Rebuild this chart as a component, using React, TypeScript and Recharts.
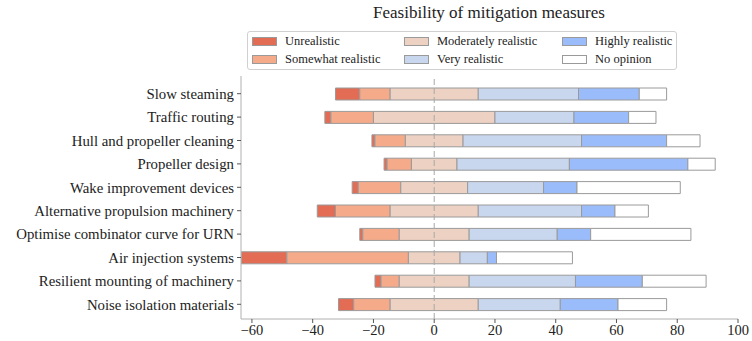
import React from "react";
import { BarChart, Bar, XAxis, YAxis, ReferenceLine } from "recharts";

const categories = [
  "Slow steaming",
  "Traffic routing",
  "Hull and propeller cleaning",
  "Propeller design",
  "Wake improvement devices",
  "Alternative propulsion machinery",
  "Optimise combinator curve for URN",
  "Air injection systems",
  "Resilient mounting of machinery",
  "Noise isolation materials",
];
const unrealistic = [8, 2, 1, 1, 2, 6, 1, 15, 2, 5];
const somewhat = [10, 14, 10, 8, 14, 18, 12, 40, 6, 12];
const moderate = [29, 40, 19, 15, 22, 29, 23, 17, 23, 29];
const very = [33, 26, 39, 37, 25, 34, 29, 9, 35, 27];
const highly = [20, 18, 28, 39, 11, 11, 11, 3, 22, 19];
const noOpinion = [9, 9, 11, 9, 34, 11, 33, 25, 21, 16];
const xTicks = [-60, -40, -20, 0, 20, 40, 60, 80, 100];

const seriesNames = [
  "Unrealistic",
  "Somewhat realistic",
  "Moderately realistic",
  "Very realistic",
  "Highly realistic",
  "No opinion",
];
const seriesKeys = ["u", "s", "m", "v", "h", "n"];
const colors = ["#e36c55", "#f5aa8a", "#edd2c3", "#c8d6ee", "#9bbcfa", "#ffffff"];

const data = categories.map((name, i) => ({
  name,
  offset: -(unrealistic[i] + somewhat[i] + moderate[i] / 2),
  u: unrealistic[i],
  s: somewhat[i],
  m: moderate[i],
  v: very[i],
  h: highly[i],
  n: noOpinion[i],
}));

const FONT = "'Liberation Serif', serif";
const TEXT = "#222";
const FRAME = "#b0b0b0";
const DOMAIN: [number, number] = [-63.6, 100];

const legendCols = [
  [0, 1],
  [2, 3],
  [4, 5],
];
const legendColX = [4, 156, 314];

export default function App() {
  return (
    <div style={{ position: "absolute", left: 0, top: 0, width: 752, height: 341, background: "#fff", fontFamily: FONT }}>
      <div
        style={{
          position: "absolute",
          left: 240,
          width: 498,
          top: 3,
          textAlign: "center",
          fontSize: 17,
          color: TEXT,
        }}
      >
        Feasibility of mitigation measures
      </div>
      <div
        style={{
          position: "absolute",
          left: 247,
          top: 31,
          width: 430,
          height: 39,
          border: "1px solid #d0d0d0",
          borderRadius: 3,
          boxSizing: "border-box",
        }}
      >
        {legendCols.map((col, ci) =>
          col.map((si, ri) => (
            <div
              key={si}
              style={{
                position: "absolute",
                left: legendColX[ci],
                top: 1 + ri * 18.5,
                height: 16,
                display: "flex",
                alignItems: "center",
                fontSize: 12.5,
                color: TEXT,
                whiteSpace: "nowrap",
              }}
            >
              <span
                style={{
                  display: "inline-block",
                  width: 23,
                  height: 7,
                  background: colors[si],
                  border: "1px solid #9a9a9a",
                  marginRight: 8,
                }}
              />
              {seriesNames[si]}
            </div>
          ))
        )}
      </div>
      <div style={{ position: "absolute", left: 0, top: 0 }}>
        <BarChart
          width={752}
          height={341}
          data={data}
          layout="vertical"
          margin={{ top: 76, right: 14, bottom: 0, left: 0 }}
          barSize={12}
        >
          <XAxis
            type="number"
            domain={DOMAIN}
            ticks={xTicks}
            allowDataOverflow
            height={22}
            tickSize={4}
            tickMargin={2}
            axisLine={{ stroke: FRAME }}
            tickLine={{ stroke: "#555" }}
            tick={{ fill: TEXT, fontSize: 14.5, fontFamily: FONT }}
            tickFormatter={(v: number) => (v < 0 ? "\u2212" + Math.abs(v) : String(v))}
          />
          <XAxis
            xAxisId="top"
            orientation="top"
            type="number"
            domain={DOMAIN}
            allowDataOverflow
            height={0}
            tick={false}
            tickLine={false}
            axisLine={{ stroke: FRAME }}
          />
          <YAxis
            type="category"
            dataKey="name"
            width={241}
            padding={{ top: 6, bottom: 3 }}
            tickSize={4}
            tickMargin={3}
            interval={0}
            axisLine={{ stroke: FRAME }}
            tickLine={{ stroke: "#555" }}
            tick={{ fill: TEXT, fontSize: 14.8, fontFamily: FONT }}
          />
          <YAxis
            yAxisId="right"
            orientation="right"
            type="category"
            dataKey="name"
            width={0}
            tick={false}
            tickLine={false}
            axisLine={{ stroke: FRAME }}
          />
          <Bar dataKey="offset" stackId="a" fill="none" stroke="none" isAnimationActive={false} />
          {seriesKeys.map((k, i) => (
            <Bar
              key={k}
              dataKey={k}
              name={seriesNames[i]}
              stackId="a"
              fill={colors[i]}
              stroke="#9a9a9a"
              strokeWidth={1}
              isAnimationActive={false}
            />
          ))}
          <ReferenceLine x={0} stroke="#a8a8a8" strokeDasharray="6 3" strokeWidth={1} />
        </BarChart>
      </div>
    </div>
  );
}
